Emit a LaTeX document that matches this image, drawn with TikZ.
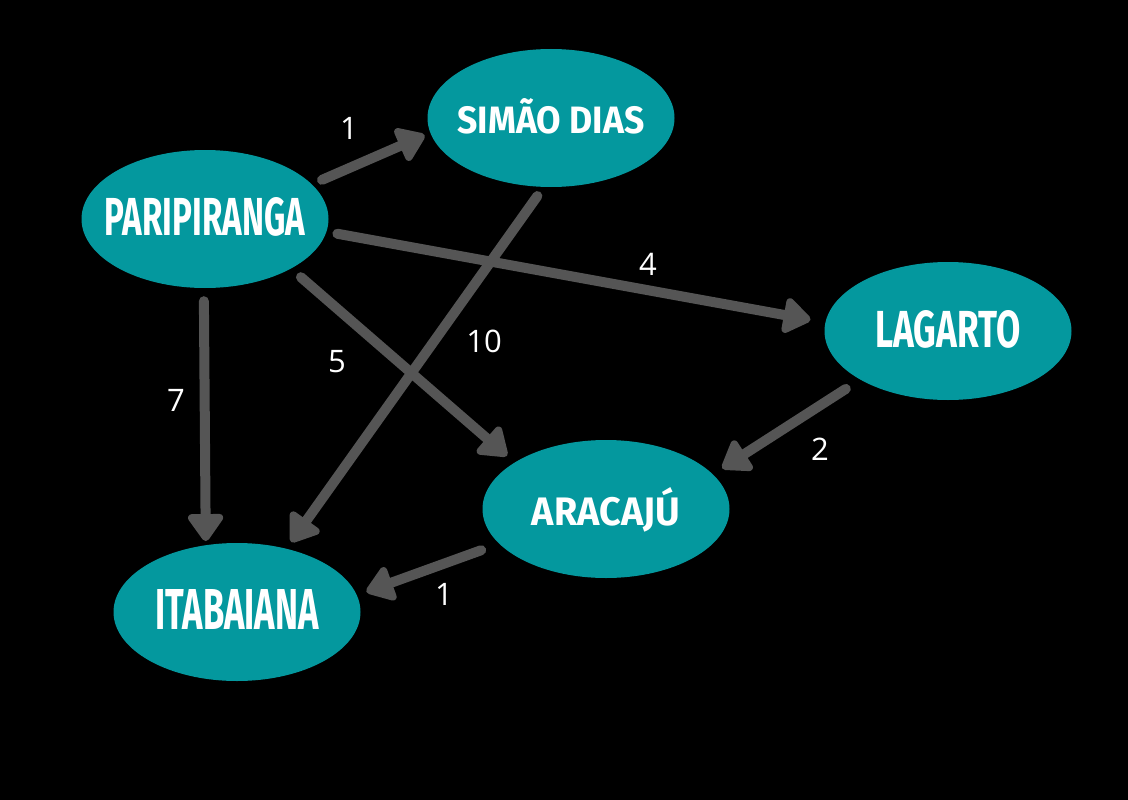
\documentclass[tikz,border=0pt]{standalone}
\usepackage{fontspec}
\setmainfont{Open Sans}
\newfontfamily\hand{Fira Sans}
\usetikzlibrary{arrows.meta,shapes.geometric}
\definecolor{citycol}{HTML}{04989E}
\definecolor{arrowgray}{HTML}{555555}
\newcommand\cname[3]{\makebox[0pt]{\smash{\raisebox{-0.5\height}{\raisebox{5pt}{\resizebox{#1}{#2}{\hand\bfseries #3}}}}}}
\begin{document}
\begin{tikzpicture}[x=1pt,y=-1pt,
  city/.style={ellipse, fill=citycol, minimum width=247pt, minimum height=138pt, inner sep=0pt, text=white},
  link/.style={draw=arrowgray, line width=10pt, line cap=round, -{Triangle[width=40pt,length=30pt,round]}},
  wt/.style={text=white, font=\fontsize{31}{31}\selectfont, inner sep=0pt}]
\fill[black] (0,0) rectangle (1128,800);
\useasboundingbox (0,0) rectangle (1128,800);

\node[city] (par) at (205,219) {\cname{200pt}{38pt}{PARIPIRANGA}};
\node[city] (sim) at (551,118) {\cname{187pt}{35pt}{SIMÃO DIAS}};
\node[city] (lag) at (948,331) {\cname{145pt}{37pt}{LAGARTO}};
\node[city] (ara) at (606,509) {\cname{148pt}{38pt}{ARACAJÚ}};
\node[city] (ita) at (237,612) {\cname{163pt}{40pt}{ITABAIANA}};

\draw[link, shorten <=11pt, shorten >=6pt] (par.18.9) -- (sim.187.7);
\draw[link, shorten <=11pt, shorten >=15pt] (par.-6.7) -- (lag.176.3);
\draw[link, shorten <=13pt, shorten >=10pt] (par.-30.4) -- (ara.153.2);
\draw[link, shorten <=13pt, shorten >=4pt] (par.-91.5) -- (ita.115.2);
\draw[link, shorten <=11pt, shorten >=8pt] (sim.-96.1) -- (ita.52.9);
\draw[link, shorten <=17pt, shorten >=11pt] (lag.209.7) -- (ara.18.4);
\draw[link, shorten <=19pt, shorten >=10pt] (ara.198.2) -- (ita.8.3);

\node[wt] (w1) at (349,128) {1};
\node[wt] (w2) at (648,264) {4};
\node[wt] (w3) at (337,362) {5};
\node[wt] (w4) at (176,400) {7};
\node[wt] (w5) at (484,341) {10};
\node[wt] (w6) at (820,449) {2};
\node[wt] (w7) at (444,594) {1};
\end{tikzpicture}
\end{document}
